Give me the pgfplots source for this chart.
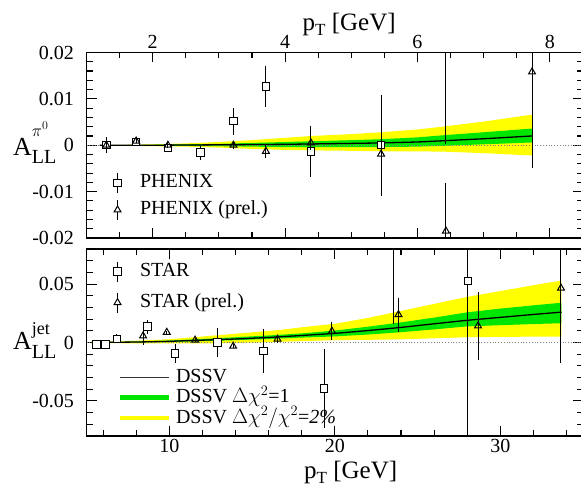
\documentclass[border=0pt]{standalone}
\usepackage{fontspec}
\setmainfont{Liberation Serif}
\usepackage{pgfplots}
\usepackage{pgfplotstable}
\pgfplotsset{compat=1.18}

\definecolor{dssvyellow}{RGB}{255,255,0}
\definecolor{dssvgreen}{RGB}{0,230,0}

% PHENIX pi0 double-spin asymmetry: pT, A_LL, stat. error
\pgfplotstableread{
pt     a        e
1.30   0.0000   0.0012
1.75   0.0007   0.0006
2.23  -0.0006   0.0007
2.72  -0.0016   0.0015
3.22   0.0052   0.0029
3.71   0.0127   0.0044
4.39  -0.0013   0.0055
5.45   0.0000   0.0109
6.43   0.0300   0.0298
}\phenix

\pgfplotstableread{
pt     a        e
1.30   0.0000   0.0017
1.75   0.0009   0.0005
2.23   0.0000   0.0006
3.22   0.0000   0.0008
3.71  -0.0013   0.0015
4.39   0.0005   0.0015
5.45  -0.0019   0.0060
6.43  -0.0185   0.0104
7.73   0.0158   0.0208
}\phenixprel

% STAR inclusive jet asymmetry
\pgfplotstableread{
pt      a        e
5.59   -0.0015   0.0030
6.15   -0.0015   0.0030
6.84    0.0032   0.0040
8.68    0.0135   0.0060
10.35  -0.0094   0.0080
12.92   0.0000   0.0120
15.69  -0.0071   0.0190
19.36  -0.0392   0.0340
23.55   0.1000   0.0840
28.05   0.0525   0.1500
}\star

\pgfplotstableread{
pt      a        e
8.42    0.0056   0.0078
9.85    0.0087   0.0015
11.56   0.0020   0.0015
13.86  -0.0032   0.0015
16.54   0.0028   0.0030
19.83   0.0097   0.0075
23.85   0.0239   0.0146
28.66   0.0142   0.0290
33.67   0.0465   0.0640
}\starprel

\newcommand{\ptlabel}{p\raisebox{-5pt}{\fontsize{17}{17}\selectfont T} [GeV]}

\begin{document}
\begin{tikzpicture}
\useasboundingbox (0,0) rectangle (581pt,488pt);

\pgfplotsset{
  panel/.style={
    scale only axis, width=496.5pt, anchor=south west,
    axis line style={line width=1.2pt},
    tick style={line width=1.1pt, black},
    major tick length=10pt, minor tick length=6pt,
    tick align=inside,
    ticklabel style={font=\fontsize{20}{24}\selectfont},
    yticklabel style={xshift=-9pt},
    scaled ticks=false,
    clip marker paths=true,
    legend cell align=left,
    xlabel style={font=\fontsize{25}{30}\selectfont, anchor=base, inner sep=0pt},
    ylabel style={rotate=-90, anchor=base west, inner sep=0pt},
  },
  datapts/.style={
    black, only marks, line width=1pt,
    error bars/y dir=both, error bars/y explicit, error bars/error mark=none,
    error bars/error bar style={line width=1pt, black}},
  sqmark/.style={mark=square*, mark size=3.75pt, mark options={fill=white, line width=1pt},
    legend image code/.code={
      \path[draw=none, fill=none] (0pt,0pt) rectangle (28.5pt,0.1pt);
      \draw[black, line width=1pt] (8pt,-10pt) -- (8pt,10pt);
      \draw[black, mark=square*, mark size=3.75pt, mark options={fill=white, line width=1pt}]
        plot coordinates {(8pt,0pt)};}},
  trimark/.style={mark=triangle, mark size=4pt, mark options={line width=1pt},
    legend image code/.code={
      \path[draw=none, fill=none] (0pt,0pt) rectangle (28.5pt,0.1pt);
      \draw[black, line width=1pt] (8pt,-10pt) -- (8pt,10pt);
      \draw[black, mark=triangle*, mark size=4pt, mark options={fill=white, line width=1pt}]
        plot coordinates {(8pt,0pt)};}},
}

% ---------------- PHENIX pi0 ----------------
\begin{axis}[panel, at={(86.5pt,250pt)}, height=185.5pt,
  xmin=1, xmax=8.5, ymin=-0.02, ymax=0.02,
  xtick={2,4,6,8}, xticklabels={2,4,6,8}, xticklabel pos=right,
  minor xtick={1.5,2.5,3,3.5,4.5,5,5.5,6.5,7,7.5},
  ytick={-0.02,-0.01,0,0.01,0.02}, yticklabels={-0.02,-0.01,0,0.01,0.02},
  minor ytick={-0.018,-0.016,-0.014,-0.012,-0.008,-0.006,-0.004,-0.002,0.002,0.004,0.006,0.008,0.012,0.014,0.016,0.018},
  xlabel={\ptlabel}, xlabel style={at={(axis description cs:0.529,1.121)}},
  ylabel={\fontsize{26}{26}\selectfont A\rlap{\raisebox{-8pt}{\fontsize{20}{20}\selectfont LL}}\raisebox{19pt}{\fontsize{18}{18}\selectfont$\pi^0$}},
  ylabel style={at={(axis description cs:-0.148,0.447)}},
  legend style={draw=none, fill=none, inner sep=0pt, at={(axis description cs:0.046,0.357)}, anchor=north west,
    font=\fontsize{20}{24}\selectfont, row sep=5pt,
    nodes={text height=14pt, text depth=4pt, inner sep=2pt}},
]
\addplot[draw=none, fill=dssvyellow, forget plot] coordinates {
 (1.2,0) (2,0.0002) (2.5,0.0004) (3,0.0007) (3.5,0.0011) (4,0.0016) (4.4,0.0020) (5,0.0024)
 (5.45,0.0028) (6,0.0034) (6.43,0.0041) (7,0.0051) (7.73,0.0066)
 (7.73,-0.0022) (7,-0.0017) (6.43,-0.0014) (6,-0.0013) (5.45,-0.0013) (5,-0.0012) (4.4,-0.0011)
 (4,-0.0010) (3.5,-0.0008) (3,-0.0005) (2.5,-0.0003) (2,-0.0002) (1.2,0)};
\addplot[draw=none, fill=dssvgreen, forget plot] coordinates {
 (1.2,0) (2,0.0001) (3,0.0003) (4,0.0007) (5,0.0011) (5.45,0.0013) (6,0.0017) (6.43,0.0022)
 (7,0.0028) (7.73,0.0036)
 (7.73,0.0006) (7,0.0002) (6.43,-0.0001) (6,-0.0003) (5.45,-0.0004) (5,-0.0004) (4,-0.0004)
 (3,-0.0002) (2,-0.0001) (1.2,0)};
\addplot[gray, dotted, line width=0.8pt, forget plot] coordinates {(1,0) (8.5,0)};
\addplot[black, line width=1.3pt, forget plot] coordinates {
 (1.2,0) (2,0) (3,0.0001) (4,0.0002) (5,0.0004) (5.45,0.0005) (6,0.0007) (6.43,0.0010)
 (7,0.0014) (7.73,0.0020)};
\addplot[datapts, sqmark] table[x=pt, y=a, y error=e] {\phenix};
\addlegendentry{PHENIX}
\addplot[datapts, trimark] table[x=pt, y=a, y error=e] {\phenixprel};
\addlegendentry{PHENIX (prel.)}
\end{axis}

% ---------------- STAR jets ----------------
\begin{axis}[panel, at={(86.5pt,52pt)}, height=187pt,
  xmin=5, xmax=35, ymin=-0.08, ymax=0.08,
  xtick={10,20,30}, xticklabels={10,20,30},
  minor xtick={6,8,12,14,16,18,22,24,26,28,32,34},
  ytick={-0.05,0,0.05}, yticklabels={-0.05,0,0.05},
  minor ytick={-0.07,-0.06,-0.04,-0.03,-0.02,-0.01,0.01,0.02,0.03,0.04,0.06,0.07},
  xlabel={\ptlabel}, xlabel style={at={(axis description cs:0.532,-0.228)}},
  ylabel={\fontsize{26}{26}\selectfont A\rlap{\raisebox{-9pt}{\fontsize{20}{20}\selectfont LL}}\raisebox{15pt}{\fontsize{18}{18}\selectfont jet}},
  ylabel style={at={(axis description cs:-0.148,0.46)}},
  legend style={draw=none, fill=none, inner sep=0pt, at={(axis description cs:0.046,0.939)}, anchor=north west,
    font=\fontsize{20}{24}\selectfont, row sep=9pt,
    nodes={text height=14pt, text depth=4pt, inner sep=2pt}},
]
\addplot[draw=none, fill=dssvyellow, forget plot] coordinates {
 (5.3,0.0005) (8,0.0015) (10,0.0028) (11.5,0.0045) (14,0.0075) (16.5,0.0105) (18,0.013)
 (20,0.016) (22,0.021) (24,0.027) (26,0.033) (28,0.039) (30,0.044) (32,0.049) (33.7,0.053)
 (33.7,0.005) (32,0.005) (30,0.0048) (28,0.0045) (26,0.0036) (24,0.0027) (22,0.0023) (20,0.002)
 (18,0.0012) (16,0.0003) (14,-0.0004) (12,-0.0008) (10,-0.0008) (8,-0.0007) (5.3,-0.0005)};
\addplot[draw=none, fill=dssvgreen, forget plot] coordinates {
 (5.3,0.0002) (8,0.0008) (10,0.0017) (12,0.0030) (14,0.0045) (16,0.006) (18,0.0078) (20,0.0102)
 (22,0.0135) (24,0.0172) (26,0.0213) (28,0.0258) (30,0.029) (32,0.0318) (33.7,0.034)
 (33.7,0.0165) (32,0.0158) (30,0.0148) (28,0.0138) (26,0.0112) (24,0.0088) (22,0.0068)
 (20,0.0052) (18,0.0042) (16,0.003) (14,0.002) (12,0.0012) (10,0.0004) (8,0.0001) (5.3,-0.0002)};
\addplot[gray, dotted, line width=0.8pt, forget plot] coordinates {(5,0) (35,0)};
\addplot[black, line width=1.3pt, forget plot] coordinates {
 (5.3,0) (8,0.0004) (10,0.001) (12,0.002) (14,0.003) (16,0.0043) (18,0.006) (20,0.0078)
 (22,0.0102) (24,0.0129) (26,0.016) (28,0.019) (30,0.0215) (32,0.024) (33.7,0.026)};
\addplot[datapts, sqmark] table[x=pt, y=a, y error=e] {\star};
\addlegendentry{STAR}
\addplot[datapts, trimark] table[x=pt, y=a, y error=e] {\starprel};
\addlegendentry{STAR (prel.)}
\end{axis}

% ---------------- DSSV legend ----------------
\begin{axis}[panel, at={(86.5pt,52pt)}, height=187pt, hide axis,
  xmin=5, xmax=35, ymin=-0.08, ymax=0.08,
  legend style={draw=none, fill=none, at={(axis description cs:0.055,0.373)}, anchor=north west,
    font=\fontsize{20}{24}\selectfont, row sep=2.5pt,
    nodes={text height=14pt, text depth=4pt, inner sep=0pt}},
]
\addlegendimage{black!80, line width=1.2pt, legend image code/.code={\draw (0pt,0pt) -- (49pt,0pt);}}
\addlegendentry{\hspace{5pt}DSSV}
\addlegendimage{dssvgreen, line width=5pt, legend image code/.code={\draw (0pt,0pt) -- (49pt,0pt);}}
\addlegendentry{\hspace{5pt}DSSV $\Delta\chi^2$=1}
\addlegendimage{dssvyellow, line width=4pt, legend image code/.code={\draw (0pt,0pt) -- (49pt,0pt);}}
\addlegendentry{\hspace{5pt}DSSV $\Delta\chi^2/\chi^2$=\textit{2\%}}
\end{axis}
\end{tikzpicture}
\end{document}
